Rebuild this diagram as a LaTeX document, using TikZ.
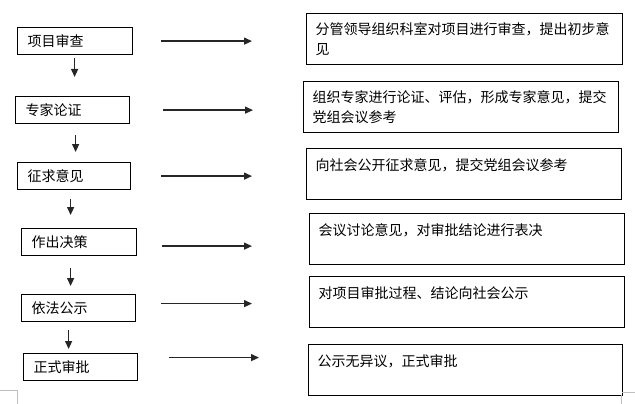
\documentclass[tikz,border=0pt]{standalone}
\usepackage{fontspec}
\newfontfamily\cjk{Noto Sans CJK SC}
\usetikzlibrary{arrows.meta}
\begin{document}
\begin{tikzpicture}[x=1pt,y=-1pt,
  lbox/.style={draw=black,line width=1.2pt,anchor=north west,inner xsep=10pt,inner ysep=0pt,
    text width=95pt,align=left,minimum height=27pt,font=\cjk\fontsize{14}{20}\selectfont},
  rbox/.style={draw=black,line width=1.2pt,anchor=north west,inner xsep=9pt,inner ysep=0pt,
    text width=297pt,align=left,minimum height=51pt,font=\cjk\fontsize{14}{20}\selectfont},
  arr/.style={draw=black!85,line width=1.3pt,-{Triangle[length=8pt,width=7pt]}},
  cornermark/.style={draw=black!25,line width=0.8pt}]
\useasboundingbox (0,0) rectangle (635,404);
% left boxes
\node[lbox,text width=95pt] (b1) at (17,27) {项目审查};
\node[lbox,text width=94pt] (b2) at (15,96) {专家论证};
\node[lbox,text width=93pt] (b3) at (17,162) {征求意见};
\node[lbox,text width=95pt] (b4) at (21,228) {作出决策};
\node[lbox,text width=94pt] (b5) at (21,294) {依法公示};
\node[lbox,text width=94pt] (b6) at (23,353) {正式审批};
% right boxes
\node[rbox,text width=298pt] (r1) at (306,13) {分管领导组织科室对项目进行审查，提出初步意\\见};
\node[rbox,text width=297pt] (r2) at (303,81) {组织专家进行论证、评估，形成专家意见，提交\\党组会议参考};
\node[rbox,text width=297pt] (r3) at (306,148) {向社会公开征求意见，提交党组会议参考\\\mbox{}};
\node[rbox,text width=297pt] (r4) at (309,213) {会议讨论意见，对审批结论进行表决\\\mbox{}};
\node[rbox,text width=297pt] (r5) at (309,276) {对项目审批过程、结论向社会公示\\\mbox{}};
\node[rbox,text width=296pt] (r6) at (308,344) {公示无异议，正式审批\\\mbox{}};
% down arrows
\draw[arr,shorten <=3pt,shorten >=19pt] ([xshift=-0.5pt]b1.south) -- ([xshift=-0.5pt]b1.south |- b2.north);
\draw[arr,shorten <=11pt,shorten >=10pt] ([xshift=3pt]b2.south) -- ([xshift=3pt]b2.south |- b3.north);
\draw[arr,shorten <=9pt,shorten >=13pt] ([xshift=-3.5pt]b3.south) -- ([xshift=-3.5pt]b3.south |- b4.north);
\draw[arr,shorten <=12pt,shorten >=8pt] ([xshift=-8.5pt]b4.south) -- ([xshift=-8.5pt]b4.south |- b5.north);
\draw[arr,shorten <=8pt,shorten >=4pt] ([xshift=-10pt]b5.south) -- ([xshift=-10pt]b5.south |- b6.north);
% right arrows
\draw[arr,shorten <=28pt,shorten >=54pt] (b1.east) -- (b1.east -| r1.west);
\draw[arr,shorten <=33pt,shorten >=50pt] (b2.east) -- (b2.east -| r2.west);
\draw[arr,shorten <=30pt,shorten >=54pt] (b3.east) -- (b3.east -| r3.west);
\draw[arr,shorten <=25pt,shorten >=57pt] ([yshift=-4pt]b4.east) -- ([yshift=-4pt]b4.east -| r4.west);
\draw[arr,shorten <=25pt,shorten >=57pt] ([yshift=4.5pt]b5.east) -- ([yshift=4.5pt]b5.east -| r5.west);
\draw[arr,shorten <=31pt,shorten >=49pt] ([yshift=9.5pt]b6.east) -- ([yshift=9.5pt]b6.east -| r6.west);
% page corner marks
\draw[cornermark] (0,390) -- (17,390) -- (17,404);
\draw[cornermark] (622,392) -- (635,392);
\draw[cornermark] (621,395) -- (621,404);
\end{tikzpicture}
\end{document}
